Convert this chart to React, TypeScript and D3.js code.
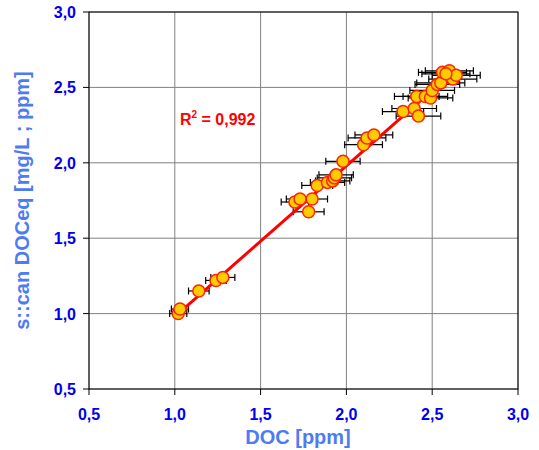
import React from "react";
import * as d3 from "d3";

const docX = [1.02, 1.03, 1.14, 1.24, 1.28, 1.70, 1.73, 1.78, 1.80, 1.83, 1.89, 1.92, 1.93, 1.94, 1.98, 2.10, 2.12, 2.16, 2.33, 2.395, 2.42, 2.41, 2.46, 2.49, 2.50, 2.53, 2.55, 2.56, 2.60, 2.62, 2.64, 2.58];
const scanY = [1.00, 1.03, 1.15, 1.22, 1.24, 1.74, 1.76, 1.675, 1.76, 1.85, 1.87, 1.88, 1.90, 1.92, 2.01, 2.12, 2.165, 2.185, 2.34, 2.36, 2.31, 2.44, 2.44, 2.43, 2.48, 2.52, 2.53, 2.60, 2.61, 2.555, 2.58, 2.59];
const docErr = [0.05, 0.05, 0.06, 0.06, 0.07, 0.08, 0.08, 0.09, 0.09, 0.09, 0.1, 0.1, 0.1, 0.1, 0.1, 0.11, 0.11, 0.11, 0.12, 0.13, 0.13, 0.13, 0.13, 0.13, 0.13, 0.13, 0.14, 0.14, 0.14, 0.14, 0.14, 0.14];
const ticks = [0.5, 1.0, 1.5, 2.0, 2.5, 3.0];
const fitSlope = 1.0;
const fitIntercept = -0.02;
const fitRange = [1.0, 2.63];
const r2Label = "0,992";

export default function App() {
  const W = 539, H = 450;
  const L = 89, R = 518, T = 12, B = 389;
  const x = d3.scaleLinear().domain([0.5, 3.0]).range([L, R]);
  const y = d3.scaleLinear().domain([0.5, 3.0]).range([B, T]);
  const fmt = (v: number) => v.toFixed(1).replace(".", ",");
  const line = d3.line<number>().x((d) => x(d)).y((d) => y(fitSlope * d + fitIntercept));
  const font = "'Liberation Sans', Arial, sans-serif";
  return (
    <svg width={W} height={H} style={{ position: "absolute", left: 0, top: 0, background: "#fff" }} fontFamily={font}>
      {ticks.map((t) => (
        <g key={"g" + t}>
          <line x1={x(t)} x2={x(t)} y1={T} y2={B} stroke="#808080" strokeWidth={1} />
          <line x1={L} x2={R} y1={y(t)} y2={y(t)} stroke="#808080" strokeWidth={1} />
        </g>
      ))}
      <rect x={L} y={T} width={R - L} height={B - T} fill="none" stroke="#000" strokeWidth={1} />
      {ticks.map((t) => (
        <g key={"t" + t}>
          <line x1={L - 6} x2={L} y1={y(t)} y2={y(t)} stroke="#000" />
          <line x1={x(t)} x2={x(t)} y1={B} y2={B + 6} stroke="#000" />
          <text x={L - 13} y={y(t) + 6} textAnchor="end" fontSize={16} fontWeight="bold" fill="#0000EE">{fmt(t)}</text>
          <text x={x(t)} y={B + 31} textAnchor="middle" fontSize={16} fontWeight="bold" fill="#0000EE">{fmt(t)}</text>
        </g>
      ))}
      {docX.map((v, i) => (
        <g key={"e" + i} stroke="#000" strokeWidth={1.2}>
          <line x1={x(v - docErr[i])} x2={x(v + docErr[i])} y1={y(scanY[i])} y2={y(scanY[i])} />
          <line x1={x(v - docErr[i])} x2={x(v - docErr[i])} y1={y(scanY[i]) - 3.5} y2={y(scanY[i]) + 3.5} />
          <line x1={x(v + docErr[i])} x2={x(v + docErr[i])} y1={y(scanY[i]) - 3.5} y2={y(scanY[i]) + 3.5} />
        </g>
      ))}
      <path d={line(fitRange) || ""} stroke="#FF0000" strokeWidth={3} fill="none" />
      {docX.map((v, i) => (
        <circle key={"p" + i} cx={x(v)} cy={y(scanY[i])} r={6} fill="#FFCC00" stroke="#FF2200" strokeWidth={1.5} />
      ))}
      <text x={180} y={125} fontSize={16} fontWeight="bold" fill="#FF0000">
        R<tspan dy={-7} fontSize={10}>2</tspan><tspan dy={7}> = {r2Label}</tspan>
      </text>
      <text x={298} y={444} textAnchor="middle" fontSize={20} fontWeight="bold" fill="#4D7BF3">DOC [ppm]</text>
      <text transform={`translate(29,${(T + B) / 2}) rotate(-90)`} textAnchor="middle" fontSize={20} fontWeight="bold" fill="#4D7BF3">s::can DOCeq [mg/L ; ppm]</text>
    </svg>
  );
}
